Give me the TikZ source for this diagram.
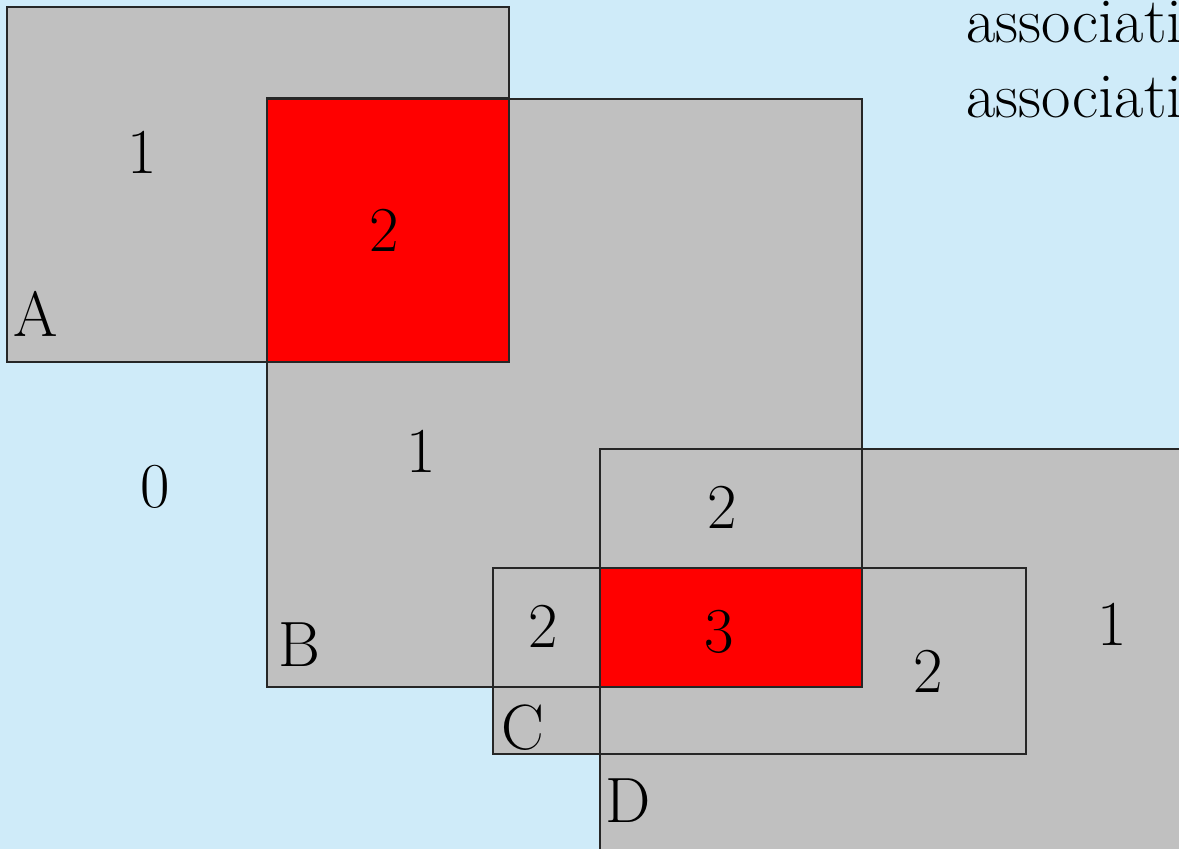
\documentclass[tikz,border=0pt]{standalone}
\definecolor{bgblue}{HTML}{CFEBF9}
\definecolor{boxgray}{HTML}{C0C0C0}
\definecolor{hotred}{HTML}{FF0000}
\begin{document}
\begin{tikzpicture}[x=0.5pt,y=-0.5pt,
  lbl/.style={anchor=base,inner sep=0pt,font=\fontsize{32}{40}\selectfont},
  corner/.style={anchor=base west,inner sep=0pt,font=\fontsize{32}{40}\selectfont},
  edge/.style={draw=black!85,line width=0.6pt}]
\useasboundingbox (0,0) rectangle (1179,849);
\clip (0,0) rectangle (1179,849);
\fill[bgblue] (0,0) rectangle (1179,849);
% fills
\fill[boxgray] (7,7) rectangle (509,362);
\fill[boxgray] (267,99) rectangle (862,687);
\fill[hotred] (267,98) rectangle (509,362);
\fill[boxgray] (600,449) rectangle (1200,870);
\fill[boxgray] (493,568) rectangle (1026,754);
\fill[hotred] (600,568) rectangle (862,687);
% outlines
\draw[edge] (7,7) rectangle (509,362);
\draw[edge] (267,99) rectangle (862,687);
\draw[edge] (267,98) rectangle (509,362);
\draw[edge] (600,449) rectangle (1200,870);
\draw[edge] (493,568) rectangle (1026,754);
\draw[edge] (600,568) rectangle (862,687);
% labels
\node[lbl] (a1) at (142,174) {1};
\node[lbl] (a2) at (384,252) {2};
\node[corner] (aA) at (13,337) {A};
\node[lbl] (b1) at (421,473) {1};
\node[lbl] (z0) at (155,508) {0};
\node[corner] (bB) at (278,667) {B};
\node[lbl] (d2) at (722,529) {2};
\node[lbl] (c2) at (543,648) {2};
\node[lbl] (r3) at (719,653) {3};
\node[lbl] (d1) at (1112,646) {1};
\node[lbl] (c2b) at (928,693) {2};
\node[corner] (cC) at (501,750) {C};
\node[corner] (dD) at (605,823) {D};
\node[corner] (t1) at (966,43) {associati};
\node[corner] (t2) at (966,118) {associati};
\end{tikzpicture}
\end{document}
